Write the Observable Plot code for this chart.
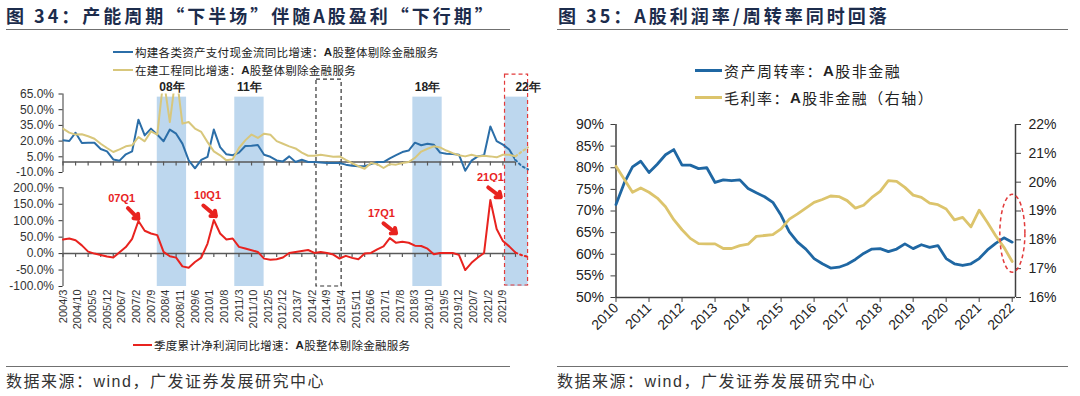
<!DOCTYPE html>
<html>
<head>
<meta charset="utf-8">
<script src="https://cdn.jsdelivr.net/npm/d3@7"></script>
<script src="https://cdn.jsdelivr.net/npm/@observablehq/plot@0.6"></script>
<style>
html,body{margin:0;padding:0;background:#fff;}
#page{position:relative;width:1080px;height:396px;overflow:hidden;background:#fff;font-family:"Liberation Sans","Noto Sans CJK SC",sans-serif;}
.abs{position:absolute;}
.title{font-family:"Noto Sans CJK SC",sans-serif;font-weight:700;font-size:18px;letter-spacing:3px;color:#1c2c4c;white-space:nowrap;line-height:18px;}
.hr{position:absolute;height:0;border-top:1.5px solid #707070;}
.src{font-family:"Liberation Sans","Noto Sans CJK SC",sans-serif;font-size:16px;letter-spacing:1.5px;color:#333;white-space:nowrap;line-height:16px;}
.leg{position:absolute;display:flex;align-items:center;white-space:nowrap;color:#222;font-family:"Liberation Sans","Noto Sans CJK SC",sans-serif;}
.sw{display:inline-block;height:0;margin-right:2px;}
</style>
</head>
<body>
<div id="page">
  <div class="abs title" style="left:6px;top:6px;">图 34：产能周期“下半场”伴随A股盈利“下行期”</div>
  <div class="hr" style="left:6px;top:29px;width:504px;"></div>
  <div class="abs title" style="left:558px;top:6px;">图 35：A股利润率/周转率同时回落</div>
  <div class="hr" style="left:557px;top:29px;width:511px;"></div>

  <div class="leg" style="left:113px;top:45px;height:14px;font-size:11.5px;letter-spacing:0.3px;"><span class="sw" style="width:20px;border-top:2.5px solid #2b6ea8;"></span>构建各类资产支付现金流同比增速：<b>A</b>股整体剔除金融服务</div>
  <div class="leg" style="left:113px;top:63px;height:14px;font-size:11.5px;letter-spacing:0.3px;"><span class="sw" style="width:20px;border-top:2.5px solid #d8c77c;"></span>在建工程同比增速：<b>A</b>股整体剔除金融服务</div>

  <div id="lt" class="abs" style="left:0;top:72px;width:544px;height:110px;"></div>
  <div id="lb" class="abs" style="left:0;top:182px;width:544px;height:158px;"></div>

  <div class="leg" style="left:133px;top:338px;height:14px;font-size:11.5px;letter-spacing:0.3px;"><span class="sw" style="width:19px;border-top:2.5px solid #e8231f;"></span>季度累计净利润同比增速：<b>A</b>股整体剔除金融服务</div>

  <div class="leg" style="left:695px;top:61px;height:18px;font-size:15px;letter-spacing:1.5px;"><span class="sw" style="width:27px;border-top:3px solid #1f67a3;"></span>资产周转率：<b>A</b>股非金融</div>
  <div class="leg" style="left:695px;top:88px;height:18px;font-size:15px;letter-spacing:1.5px;"><span class="sw" style="width:27px;border-top:3px solid #dcc46c;"></span>毛利率：<b>A</b>股非金融（右轴）</div>

  <div id="ra" class="abs" style="left:550px;top:110px;width:530px;height:230px;"></div>
  <div id="rb" class="abs" style="left:550px;top:110px;width:530px;height:230px;"></div>

  <div class="hr" style="left:6px;top:366px;width:504px;"></div>
  <div class="abs src" style="left:6px;top:374px;">数据来源：wind，广发证券发展研究中心</div>
  <div class="hr" style="left:557px;top:366px;width:511px;"></div>
  <div class="abs src" style="left:557px;top:374px;">数据来源：wind，广发证券发展研究中心</div>
</div>
<script>
// ---------- Left chart data (quarterly, %) ----------
const leftQuarters = ["2004/3","2004/6","2004/9","2004/12","2005/3","2005/6","2005/9","2005/12","2006/3","2006/6","2006/9","2006/12","2007/3","2007/6","2007/9","2007/12","2008/3","2008/6","2008/9","2008/12","2009/3","2009/6","2009/9","2009/12","2010/3","2010/6","2010/9","2010/12","2011/3","2011/6","2011/9","2011/12","2012/3","2012/6","2012/9","2012/12","2013/3","2013/6","2013/9","2013/12","2014/3","2014/6","2014/9","2014/12","2015/3","2015/6","2015/9","2015/12","2016/3","2016/6","2016/9","2016/12","2017/3","2017/6","2017/9","2017/12","2018/3","2018/6","2018/9","2018/12","2019/3","2019/6","2019/9","2019/12","2020/3","2020/6","2020/9","2020/12","2021/3","2021/6","2021/9","2021/12","2022/3"];
const forecastQuarters = ["2022/3","2022/6","2022/9"];
const cashFlowYoY = [20.7,20.1,28.0,18.2,18.5,18.5,12.5,10.2,2.5,1.3,7.4,10.2,40.5,25.5,31.9,26.2,19.8,31.0,27.1,17.6,1.6,-6.0,2.0,5.0,31.0,14.3,7.4,6.5,9.0,15.3,15.5,16.3,7.0,5.0,1.5,0.6,5.4,0,2.2,0,0,-0.5,-1,-1,-1,-2.5,-3.5,-4,-4,-2,0,0,3.5,6.5,9.5,11,18.5,16,17.5,16.6,9,8,7.6,7,-8.3,1.3,5.4,6.4,34,20,16.6,12,2];
const constructionYoY = [31.9,28.1,26.2,26.5,24.6,22.3,17.5,13.4,9.6,12.1,15,16,23.9,19.8,29.3,26.2,80,38.2,85,36.7,38.2,32,28.7,19,10.2,6.4,1.6,2.6,13.4,20.7,26.2,23,27.1,26,20,17.5,15,13,9,6,6,7,6,5,5.4,2,-1,-4,-6.4,-1,-2,-5.7,-2,-2.5,-1,0,4,10,12.7,15,14,11,8.5,6.5,5.4,7,5.4,6,5.4,4.5,7,7,5.4];
const profitYoY = [42.9,45.9,40.8,25,6,0,-4,-9,-12,4,20,45,99,69.4,61.2,56.1,5.1,-8.2,-12.2,-38.8,-42.9,-25.5,-12.2,30.6,102,61.2,42.9,45.9,20.4,15.3,10.2,5.1,-15.3,-18.4,-17.3,-12,2,5,8,11,2,5,2,-3,-15,-7,-13,-17,0,2,13,22,47,32.7,35.7,33,24,23,15,-2,2,2,2,-4,-50,-28,-12,2,163,75,38,22,3];
const cashFlowFc = [2,-4,-7];
const constructionFc = [5.4,10,14];
const profitFc = [3,-5,-10];
const xTickLabels = ["2004/3","2004/10","2005/5","2005/12","2006/7","2007/2","2007/9","2008/4","2008/11","2009/6","2010/1","2010/8","2011/3","2011/10","2012/5","2012/12","2013/7","2014/2","2014/9","2015/4","2015/11","2016/6","2017/1","2017/8","2018/3","2018/10","2019/5","2019/12","2020/7","2021/2","2021/9"];
const topYTicks = [-10,5,20,35,50,65];
const bottomYTicks = [-100,-50,0,50,100,150,200];
const bands = [{start:"2007/12",end:"2009/2"},{start:"2011/1",end:"2012/3"},{start:"2018/2",end:"2019/4"},{start:"2021/10",end:"2022/9"}];
const bandLabels = [{label:"08年",at:"2008/7"},{label:"11年",at:"2011/8"},{label:"18年",at:"2018/9"},{label:"22年",at:"2022/9"}];
const blackBox = {start:"2014/4",end:"2015/4"};
const redBox = {start:"2021/10",end:"2022/9"};
const profitNotes = [{label:"07Q1",at:"2006/7",v:167},{label:"10Q1",at:"2009/12",v:177},{label:"17Q1",at:"2016/11",v:121}];
const topNotes = [{label:"21Q1",at:"2021/3",v:-14.5}];
const profitArrows = [{from:"2006/10",v1:138,to:"2007/3",v2:106},{from:"2009/10",v1:146,to:"2010/4",v2:114},{from:"2016/12",v1:92,to:"2017/6",v2:62},{from:"2021/2",v1:201,to:"2021/8",v2:172}];

// ---------- Right chart data (quarterly) ----------
const rightQuarters = ["2010Q1","2010Q2","2010Q3","2010Q4","2011Q1","2011Q2","2011Q3","2011Q4","2012Q1","2012Q2","2012Q3","2012Q4","2013Q1","2013Q2","2013Q3","2013Q4","2014Q1","2014Q2","2014Q3","2014Q4","2015Q1","2015Q2","2015Q3","2015Q4","2016Q1","2016Q2","2016Q3","2016Q4","2017Q1","2017Q2","2017Q3","2017Q4","2018Q1","2018Q2","2018Q3","2018Q4","2019Q1","2019Q2","2019Q3","2019Q4","2020Q1","2020Q2","2020Q3","2020Q4","2021Q1","2021Q2","2021Q3","2021Q4","2022Q1"];
const assetTurnover = [71.5,76.5,80.2,81.5,78.9,80.8,83.0,84.2,80.6,80.6,79.8,80.0,76.6,77.2,77.0,77.2,75.2,74.2,73.3,72.0,69.0,65.2,62.8,61.2,59.0,57.8,56.8,57.0,57.7,58.8,60.2,61.2,61.3,60.6,61.2,62.4,61.3,62.2,61.6,62.0,59.0,57.8,57.4,57.8,59.0,61.0,62.5,63.8,62.8];
const grossMargin = [20.55,20.1,19.65,19.8,19.65,19.45,19.15,18.7,18.35,18.05,17.87,17.86,17.86,17.7,17.7,17.8,17.85,18.12,18.15,18.18,18.38,18.72,18.9,19.1,19.3,19.4,19.52,19.5,19.36,19.1,19.2,19.47,19.68,20.05,20.03,19.82,19.55,19.47,19.27,19.22,19.07,18.69,18.78,18.45,19.03,18.6,18.14,17.74,17.25];
const rightYears = [2010,2011,2012,2013,2014,2015,2016,2017,2018,2019,2020,2021,2022];
const rightLeftTicks = [50,55,60,65,70,75,80,85,90];
const rightRightTicks = [16,17,18,19,20,21,22];
const highlight = {t:2022.02, v:18.21, dt:0.38, dv:1.35};

// ---------- helpers ----------
const mi = s => { const [y, m] = s.split("/").map(Number); return (y - 2004) * 12 + (m - 3); };
const series = (dates, vals) => dates.map((d, i) => ({m: mi(d), v: vals[i]}));
const qt = s => +s.slice(0, 4) + (+s.slice(5) - 1) / 4;
const rseries = vals => rightQuarters.map((q, i) => ({t: qt(q), v: vals[i]}));
const labelByMonth = new Map(xTickLabels.map(s => [mi(s), s]));
const tickMonths = d3.range(0, 217, 6);
const AX = "#595959", BLUE = "#2b6ea8", YEL = "#d8c77c", RED = "#e8231f", BAND = "#bdd7ee";
const FONT = "'Liberation Sans', Arial, sans-serif";
const st = {background: "transparent", overflow: "hidden", fontFamily: FONT, color: "#333"};

const lt = Plot.plot({
  width: 544, height: 110, marginLeft: 62.5, marginRight: 29, marginTop: 21.5, marginBottom: 10,
  style: st,
  x: {domain: [0, 216], axis: null, label: null},
  y: {domain: [-10, 65], label: null},
  marks: [
    Plot.rect(bands, {x1: d => mi(d.start), x2: d => mi(d.end), y1: -40, y2: 62, fill: BAND}),
    Plot.rect([blackBox], {x1: d => mi(d.start), x2: d => mi(d.end), y1: -40, y2: 78.8, fill: "none", stroke: "#333", strokeWidth: 1.2, strokeDasharray: "4,3"}),
    Plot.rect([redBox], {x1: d => mi(d.start), x2: d => mi(d.end), y1: -40, y2: 83.6, fill: "none", stroke: "#e23b3b", strokeWidth: 1.2, strokeDasharray: "4,3"}),
    Plot.ruleX([0], {y1: -10, y2: 65, stroke: AX, strokeWidth: 1.2}),
    Plot.axisY({ticks: topYTicks, tickFormat: d => d.toFixed(1) + "%", tickSize: 4, tickPadding: 5, fontSize: 12, label: null}),
    Plot.ruleY([0], {stroke: AX, strokeWidth: 1.5}),
    Plot.ruleX(tickMonths, {y1: 0, y2: -3.8, stroke: AX, strokeWidth: 1.2}),
    Plot.line(series(leftQuarters, cashFlowYoY), {x: "m", y: "v", stroke: BLUE, strokeWidth: 2, clip: true}),
    Plot.line(series(leftQuarters, constructionYoY), {x: "m", y: "v", stroke: YEL, strokeWidth: 2, clip: true}),
    Plot.line(series(forecastQuarters, cashFlowFc), {x: "m", y: "v", stroke: BLUE, strokeWidth: 2, strokeDasharray: "2,3"}),
    Plot.line(series(forecastQuarters, constructionFc), {x: "m", y: "v", stroke: YEL, strokeWidth: 2, strokeDasharray: "2,3"}),
    Plot.text(bandLabels, {x: d => mi(d.at), y: 72, text: "label", fontSize: 12, fontWeight: "bold", fill: "#222"}),
    Plot.text(topNotes, {x: d => mi(d.at), y: "v", text: "label", fontSize: 11, fontWeight: "bold", fill: RED})
  ]
});
document.getElementById("lt").append(lt);

const lb = Plot.plot({
  width: 544, height: 158, marginLeft: 62.5, marginRight: 29, marginTop: 5.3, marginBottom: 54,
  style: st,
  x: {domain: [0, 216], label: null},
  y: {domain: [-100, 200], label: null},
  marks: [
    Plot.rect(bands, {x1: d => mi(d.start), x2: d => mi(d.end), y1: -100, y2: 240, fill: BAND}),
    Plot.rect([blackBox], {x1: d => mi(d.start), x2: d => mi(d.end), y1: -100, y2: 240, fill: "none", stroke: "#333", strokeWidth: 1.2, strokeDasharray: "4,3"}),
    Plot.rect([redBox], {x1: d => mi(d.start), x2: d => mi(d.end), y1: -97, y2: 240, fill: "none", stroke: "#e23b3b", strokeWidth: 1.2, strokeDasharray: "4,3"}),
    Plot.ruleX([0], {y1: -100, y2: 200, stroke: AX, strokeWidth: 1.2}),
    Plot.axisY({ticks: bottomYTicks, tickFormat: d => d.toFixed(1) + "%", tickSize: 4, tickPadding: 5, fontSize: 12, label: null}),
    Plot.axisX(xTickLabels.map(mi), {tickFormat: m => labelByMonth.get(m), tickRotate: -90, tickSize: 0, tickPadding: 3, fontSize: 11, label: null}),
    Plot.ruleY([0], {stroke: AX, strokeWidth: 1.5}),
    Plot.ruleX(tickMonths, {y1: 0, y2: -11.5, stroke: AX, strokeWidth: 1.2}),
    Plot.line(series(leftQuarters, profitYoY), {x: "m", y: "v", stroke: RED, strokeWidth: 2}),
    Plot.line(series(forecastQuarters, profitFc), {x: "m", y: "v", stroke: RED, strokeWidth: 2, strokeDasharray: "2,3"}),
    Plot.arrow(profitArrows, {x1: d => mi(d.from), y1: "v1", x2: d => mi(d.to), y2: "v2", stroke: RED, strokeWidth: 4, headLength: 7, headAngle: 80}),
    Plot.text(profitNotes, {x: d => mi(d.at), y: "v", text: "label", fontSize: 11, fontWeight: "bold", fill: RED})
  ]
});
document.getElementById("lb").append(lb);

// ---------- Right chart ----------
const RBLUE = "#1f67a3", RYEL = "#dcc46c", RAX = "#404040";
const ra = Plot.plot({
  width: 530, height: 230, marginLeft: 65.5, marginRight: 65, marginTop: 14, marginBottom: 43,
  style: {background: "white", fontFamily: FONT, color: "#222"},
  x: {domain: [2010, 2022.1], label: null},
  y: {domain: [50, 90], label: null},
  marks: [
    Plot.ruleX([2010], {stroke: RAX, strokeWidth: 1.5}),
    Plot.ruleY([50], {stroke: RAX, strokeWidth: 1.5}),
    Plot.axisY({ticks: rightLeftTicks, tickFormat: d => d + "%", tickSize: 5, tickPadding: 7, fontSize: 14, stroke: RAX, label: null}),
    Plot.axisX({ticks: rightYears, tickFormat: d => String(d), tickSize: 5, tickPadding: 3, tickRotate: -45, textAnchor: "end", fontSize: 14, stroke: RAX, label: null}),
    Plot.line(rseries(assetTurnover), {x: "t", y: "v", stroke: RBLUE, strokeWidth: 2.8})
  ]
});
document.getElementById("ra").append(ra);

function highlightEllipse(index, scales) {
  const cx = scales.x(highlight.t), cy = scales.y(highlight.v);
  const rx = Math.abs(scales.x(highlight.t + highlight.dt) - cx);
  const ry = Math.abs(scales.y(highlight.v + highlight.dv) - cy);
  const el = document.createElementNS("http://www.w3.org/2000/svg", "ellipse");
  el.setAttribute("cx", cx); el.setAttribute("cy", cy);
  el.setAttribute("rx", rx); el.setAttribute("ry", ry);
  el.setAttribute("fill", "none"); el.setAttribute("stroke", "#e23b3b");
  el.setAttribute("stroke-width", 1.5); el.setAttribute("stroke-dasharray", "4,3");
  return el;
}

const rb = Plot.plot({
  width: 530, height: 230, marginLeft: 65.5, marginRight: 65, marginTop: 14, marginBottom: 43,
  style: {background: "transparent", fontFamily: FONT, color: "#222"},
  x: {domain: [2010, 2022.1], axis: null, label: null},
  y: {domain: [16, 22], label: null},
  marks: [
    Plot.ruleX([2022.1], {stroke: RAX, strokeWidth: 1.5}),
    Plot.axisY({anchor: "right", ticks: rightRightTicks, tickFormat: d => d + "%", tickSize: 5, tickPadding: 8, fontSize: 14, stroke: RAX, label: null}),
    Plot.line(rseries(grossMargin), {x: "t", y: "v", stroke: RYEL, strokeWidth: 2.8}),
    highlightEllipse
  ]
});
document.getElementById("rb").append(rb);
</script>
</body>
</html>
